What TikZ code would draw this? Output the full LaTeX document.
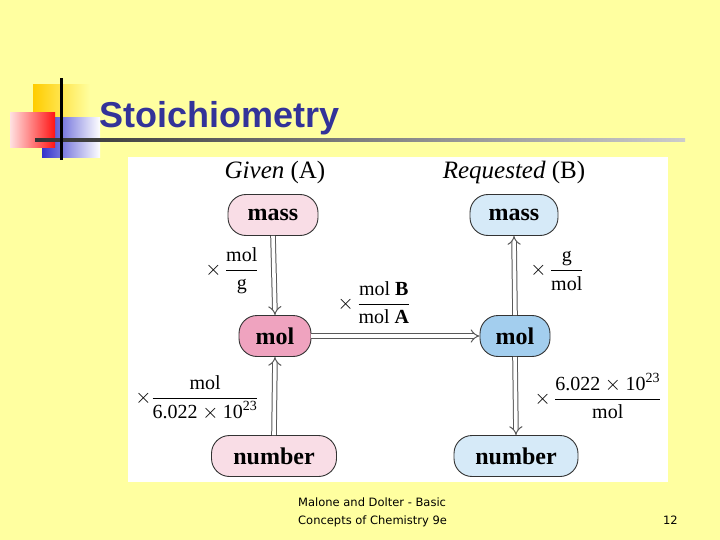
\documentclass[tikz,border=0pt]{standalone}
\usepackage{fontspec}
\usepackage{amsmath}
\setmainfont{Liberation Serif}
\newfontfamily\arialfont{Liberation Sans}
\newfontfamily\footfont{DejaVu Sans}
\usetikzlibrary{arrows.meta}
\definecolor{bgyellow}{RGB}{255,255,160}
\definecolor{titleblue}{RGB}{51,51,153}
\definecolor{pinklight}{RGB}{249,221,230}
\definecolor{pinkdark}{RGB}{239,163,191}
\definecolor{bluelight}{RGB}{214,234,248}
\definecolor{bluedark}{RGB}{163,206,238}
\tikzset{
  qbox/.style={draw=black!80, line width=0.9pt, rounded corners=18pt, minimum height=41pt, inner sep=0pt,
    font=\fontsize{24}{26}\selectfont\bfseries},
  dblarrow/.style={draw=black!65, line width=1pt, double=white, double distance=3.6pt, -{Implies[length=7pt]}},
  factor/.style={font=\fontsize{20}{22}\selectfont, inner sep=0pt},
  head/.style={font=\fontsize{25}{27}\selectfont, inner sep=0pt}
}
\begin{document}
\begin{tikzpicture}[x=1pt,y=-1pt]
\useasboundingbox (0,0) rectangle (720,540);
\fill[bgyellow] (0,0) rectangle (720,540);
% decoration
\shade[left color={rgb,255:red,255;green,204;blue,0}, right color=bgyellow] (33,85) rectangle (90,120);
\shade[left color={rgb,255:red,51;green,51;blue,204}, right color=white] (42,118) rectangle (100,158);
\shade[left color={rgb,255:red,255;green,225;blue,225}, right color={rgb,255:red,255;green,20;blue,20}] (10,113) rectangle (55,148);
\shade[left color=black!80, right color=black!20] (35,139) rectangle (685,141.5);
\fill[black] (60,78) rectangle (62.5,160);
\node[anchor=base west, inner sep=0pt, text=titleblue, font=\arialfont\bfseries\fontsize{36}{38}\selectfont] (title) at (99,128) {Stoichiometry};
% panel
\fill[white] (128,157) rectangle (668,482);
% headings
\node[head] (hA) at (275,172) {\textit{Given} (A)};
\node[head] (hB) at (514,172) {\textit{Requested} (B)};
% boxes
\node[qbox, fill=pinklight, minimum width=90pt] (am) at (273,215) {mass};
\node[qbox, fill=pinkdark, minimum width=72pt] (amol) at (275,336) {mol};
\node[qbox, fill=pinklight, minimum width=125pt] (anum) at (274,456) {number};
\node[qbox, fill=bluelight, minimum width=88pt] (bm) at (514,215) {mass};
\node[qbox, fill=bluedark, minimum width=70pt] (bmol) at (515,336) {mol};
\node[qbox, fill=bluelight, minimum width=124pt] (bnum) at (516,456) {number};
% arrows
\draw[dblarrow] (am.south) -- (amol.north);
\draw[dblarrow] (anum.north) -- (amol.south);
\draw[dblarrow] (amol.east) -- (bmol.west);
\draw[dblarrow] (bmol.north) -- (bm.south);
\draw[dblarrow] (bmol.south) -- (bnum.north);
% factors
\node[factor] (f1) at (232,271) {$\times\,\dfrac{\text{mol}}{\text{g}}$};
\node[factor] (f2) at (374,303) {$\times\,\dfrac{\text{mol \textbf{B}}}{\text{mol \textbf{A}}}$};
\node[factor] (f3) at (557,271) {$\times\,\dfrac{\text{g}}{\text{mol}}$};
\node[factor] (f4) at (197,398) {$\times\dfrac{\text{mol}}{\text{6.022}\times\text{10}^{\text{23}}}$};
\node[factor] (f5) at (598,396) {$\times\,\dfrac{\text{6.022}\times\text{10}^{\text{23}}}{\text{mol}}$};
% footer
\node[anchor=north west, inner sep=0pt, align=left, font=\footfont\fontsize{11.5}{18}\selectfont] (foot) at (298,498) {Malone and Dolter - Basic\\Concepts of Chemistry 9e};
\node[anchor=north east, inner sep=0pt, font=\footfont\fontsize{11.5}{18}\selectfont] (pg) at (678,516) {12};
\end{tikzpicture}
\end{document}
